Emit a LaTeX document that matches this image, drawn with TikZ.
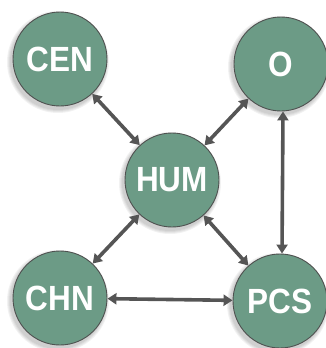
\documentclass[tikz,border=0pt]{standalone}
\usepackage{fontspec}
\setmainfont{Liberation Sans}[FakeStretch=0.9]
\usetikzlibrary{arrows.meta}
\definecolor{nodegreen}{HTML}{6C9B86}
\definecolor{rimgray}{HTML}{4F5150}
\definecolor{arrowgray}{HTML}{555555}
\tikzset{
  topic/.style={circle, fill=nodegreen, draw=rimgray, line width=0.9pt,
    minimum size=94pt, inner sep=0pt, text=white,
    font=\fontsize{35}{35}\selectfont\bfseries},
  link/.style={draw=arrowgray, line width=3.6pt,
    {Triangle[length=9pt,width=11pt]}-{Triangle[length=9pt,width=11pt]}},
  halo/.style={fill=black, fill opacity=0.05}
}
\begin{document}
\begin{tikzpicture}[x=1pt,y=-1pt]
\useasboundingbox (0,0) rectangle (326,348);
% centres of the five topics
\coordinate (pcen) at (60,59);
\coordinate (po)   at (281,64);
\coordinate (phum) at (172,180);
\coordinate (pchn) at (60,298);
\coordinate (ppcs) at (280,301);
% soft drop shadows, slightly down and to the left
\foreach \p in {pcen,po,phum,pchn,ppcs}{
  \foreach \r in {51,50,49,48}{
    \path[halo] ([shift={(-2,3)}]\p) circle[radius=\r];
  }
}
\node[topic] (cen) at (pcen) {CEN};
\node[topic] (o)   at (po)   {O};
\node[topic] (hum) at (phum) {HUM};
\node[topic] (chn) at (pchn) {CHN};
\node[topic] (pcs) at (ppcs) {PCS};
\draw[link] (cen) -- (hum);
\draw[link] (o) -- (hum);
\draw[link] (chn) -- (hum);
\draw[link] (pcs) -- (hum);
\draw[link] (chn) -- (pcs);
\draw[link] ([xshift=2pt]o.south) -- ([xshift=2pt]pcs.north);
\end{tikzpicture}
\end{document}
